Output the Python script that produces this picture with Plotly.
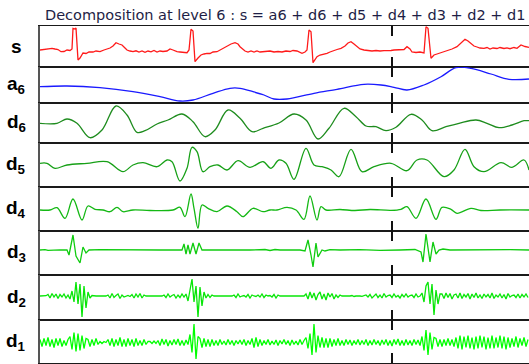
import plotly.graph_objects as go
from plotly.subplots import make_subplots

# ---------------- data (sample index, amplitude) ----------------
s_x = [0, 4, 8, 12, 15, 18, 21, 24, 27, 30, 32, 33, 35, 36, 38, 40, 43, 46, 49, 53, 56, 60, 64, 67, 70, 73, 76, 79, 82, 85,
       87, 90, 93, 96, 99, 102, 105, 108, 111, 114, 117, 120, 123, 127, 130, 133, 137, 140, 144, 147, 149, 151, 153, 155,
       158, 161, 164, 167, 170, 173, 177, 180, 184, 187, 191, 195, 198, 200, 203, 205, 208, 211, 214, 217, 220, 223, 226,
       230, 234, 238, 242, 246, 250, 253, 257, 260, 262, 265, 267, 269, 271, 273, 277, 280, 283, 287, 290, 294, 297, 301,
       305, 308, 311, 314, 317, 320, 324, 328, 332, 336, 340, 344, 348, 351, 354, 357, 361, 364, 367, 370, 372, 376, 380,
       384, 386, 388, 391, 394, 397, 400, 404, 408, 412, 417, 421, 425, 428, 431, 434, 437, 440, 444, 447, 450, 453, 457,
       460, 464, 467, 470, 474, 477, 481, 485, 489]
s_y = [0, 0.5, 1.5, 1.7, 1, 0.5, -1.7, -1.5, 0, -0.5, 1, 21.7, 21, 22, -10, -8, -3, -3.5, -2, -2, -1, -1.7, 0, 1, 2, 4, 7.3,
       6, 5, 2, 0, -1, -1.7, -0.8, -2, -1, -2.3, -1, -1.8, -0.5, -2, -1, -1.5, -1, 1, 0, -1.7, -2, -2.5, -2.7, 0, 20.7, 19,
       -11.7, -8, -5, -4, -3.3, -3.5, -2, -1.7, 0, 2, 3.3, 6, 7.3, 6, 3.3, 1, -1, -2, -1, -2, -1, -2, -1.5, -1.7, -1, -2,
       -1.5, -2, -1, -1.5, -0.5, -1, -2, -3.3, -2, 0, 20, 18.3, -12.7, -6.7, -5, -4.5, -3.3, -2, -1, 0.5, 1.7, 4, 7, 8.3, 6,
       3.3, 1, 0, -0.5, -1, -0.5, -1, -0.7, -1, -0.5, 0, 0, 0.5, 0.5, 3.3, 1, -2, -2.5, -2, -3, 23.3, 21.7, -8.3, -5, -4, -3,
       -1.7, -0.5, 1, 3.3, 7, 10.7, 9, 6, 4, 3, 2, 1.7, 2.5, 1, 2, 1.5, 2.5, 1.5, 2.2, 1.3, 2.5, 1.7, 5, 3.5, 2.7]

a6_x = [0, 27, 60, 93, 120, 140, 153, 173, 190, 200, 213, 224, 234, 247, 274, 297, 324, 341, 354, 367, 384, 401, 416, 431,
        451, 469, 489]
a6_y = [-1.7, -1, -2.7, -6.7, -11.7, -16, -15, -8.3, -3.3, -3.3, -6.7, -10, -14, -14, -8.3, -4.3, 0.7, 0, -2.3, -5, 0,
        8.3, 17.3, 16.7, 11, 5.7, 6]

d6_x = [0, 17, 27, 37, 50, 62, 76, 87, 97, 105, 117, 128, 142, 153, 165, 175, 188, 200, 212, 223, 239, 254, 266, 278, 289,
        304, 316, 326, 336, 346, 356, 371, 382, 392, 406, 419, 436, 447, 459, 472, 484, 489]
d6_y = [-0.3, -0.3, 4, -0.3, -14.7, -7, 17, 8, -9.3, -7.7, -1, 3, 9, 1.3, -13.7, -7, 13, 4.7, -8.7, -5.3, 0, 9, 3, -16,
        -5.3, 14.7, 6.3, -3, -3.7, -7.7, -4.3, 8.7, 3, -7.7, -3.7, -0.3, 3, -0.3, -4.7, -2, 2.3, 2.3]

d5_x = [0, 7, 15, 27, 47, 67, 83, 93, 103, 117, 127, 132, 140, 147, 152, 157, 163, 170, 178, 187, 198, 210, 223, 231, 239,
        246, 254, 266, 274, 282, 291, 299, 311, 322, 334, 351, 367, 377, 387, 404, 414, 425, 434, 444, 461, 472, 484, 489]
d5_y = [1.7, 1.7, -3.3, 0, 1.7, 3.3, -6.7, 0, 2.3, -1.7, 5, 3.3, -16, -3.3, 17.7, 13.3, -6.7, -1.7, 0, -5, 4.3, -2.3, 3.3,
        -3.3, 5, 1.7, -14.3, 16.7, 0, -1.7, -5, -11.7, 15.7, -6.7, -1.7, 1.7, -5.7, 5, 5, -11.7, -5, 15.7, -1.7, -6.7, 2.3,
        -2.3, 5, -5]

d4_x = [0, 10, 17, 25, 33, 42, 48, 55, 63, 70, 77, 83, 93, 110, 133, 140, 145, 151, 154, 158, 162, 168, 177, 187, 197, 203,
        213, 223, 230, 237, 247, 256, 264, 270, 277, 281, 286, 300, 315, 330, 351, 361, 367, 376, 386, 396, 402, 411, 417,
        431, 441, 460, 489]
d4_y = [0, 0, 2.3, -8.3, 11, -10, 4, 0.7, 0, -1.7, 2.7, -1.7, 0, -0.5, 0, 2.7, -6.7, 16, 1.7, -18.3, 5, 1.7, -1.7, 4, -1.7,
        -6.7, 1.7, -1.7, 0, 0, 2.7, 0, -9.3, 14, -10, 3.3, 0, 0.5, -0.5, 0.5, -0.3, 0.7, 3.3, -8.3, 11, -9.3, 2.7, 0.7, -3.3,
        1.7, -0.5, 0, 0]

d3_x = [0, 5, 8, 12, 20, 27, 29, 33, 36, 40, 43, 46, 49, 60, 80, 100, 120, 142, 144, 146, 148, 150, 153, 156, 159, 162, 165,
        180, 195, 210, 225, 230, 235, 240, 250, 260, 265, 268, 271, 273, 276, 278, 282, 285, 290, 300, 320, 340, 360, 375,
        381, 383, 386, 390, 393, 396, 399, 403, 410, 430, 450, 470, 489]
d3_y = [0, 0.3, -0.3, 0, 0.2, 0, -5, 15, -6, -13, 3, -3, 0, 0.3, 0, -0.3, 0, 0, 6, -4, 5, -4, 7, -4, 7, 0, 0, -0.3, 0.3, 0,
        0.5, -0.5, 0.5, 0, 0.2, 0, -1, 10, -5, -17, 7, -7, 0, -1, 0.3, 0, 0.3, -0.3, 0, 0.5, -2, -12, 16, -12, 8, -4, 0, 1, 0,
        0.3, 0, 0.3, 0]

# d2 and d1 are sampled every 2 samples
d2_y = [0, 0, 0, 0.3,
        1.5, -2, 2.5, -1, 2, -2.5, 1.5, -1, 2, -2, 1,
        -3, 5, -6, 14, -8, 12, -21, 10, -12, 4, -2, 0.5,
        0, 0, 0.2, 0, 0, -0.2, 0,
        1, -2, 2.5, -1.5, 0.5, 2, -2.5, 1, -1, 0, 0.5, -0.5, 1.5, -2, 2, -1, 2.5, -2, 1, 0,
        0, 0, 0, 0, 0.2, 0, 0, 0,
        1, -1.5, 2, -1, 0.5, 1.5, -2, 1, -1.5, 2, -1,
        2, -5, 8, 17, -6, 10, -21, 9, -10, 4, -2,
        1.5, -1.5, 1,
        0, 0, 0, 0, 0, 0, 0, 0, 0, 0,
        1, -1.5, 2, -1, 0, 0.5, -1, 1.5, -2, 1, 0, -0.5, 1, -1, 2, -1.5, 1, 0, 0.5, -1, 1.5, -2, 1, 0,
        0, 0, 0, 0, 0, 0, 0, 0, 0, 0, 0, 0,
        2, -3, 4, -2, 3, -4, 1.5, 4, -3, 2, -4, 3, -1, 2.5, -3, 1, -1.5, 1, 0,
        0, 0.3, -0.3, 0, 0.5, -0.5, 0, 0.3, 0, -0.3, 0,
        1, -1, 1.5, -2, 0.5, 2, -1.5, 1, -2, 2.5, -1, 0.5, 1, -1.5, 2, -1, 0.5, -2, 1.5, -1, 2, -1, 0.5, 1, -1.5, 2, -1, 0,
        3, -6, 10, 14, -8, 12, -19, 6, -8, 2,
        2, -2.5, 3, -1.5, 2.5, -3, 1, 2, -2, 3, -2.5, 1.5, -1, 2.5, -3, 2, -1.5, 3, -2, 1, -2.5, 2, -1, 1.5, -2, 3, -2.5, 1,
        -1, 2, -2, 1.5, -3, 2.5, -1, 0.5, 1, -1.5, 2, -2, 1.5, -1, 2, -1.5]

d1_y = [3, -4, 4, -3, 5, -4, 3, -5, 4, -3, 4, -4, 2, -3, 3,
        6, -7, 10, -9, 9, -8, 7, -6, 4,
        3, -4, 3, -3, 4, -2,
        1, -1, 1, 0,
        3, -3, 4, -4, 3, -3, 5, -4, 3, -4, 4, -3, 3, -4, 4, -3, 2, -3, 3, -2, 1,
        1, -1, 1.5, -1,
        2, -3, 3.5, -2, 3, -3.5, 2, -2.5, 3, -2, 3.5, -3, 2, -3, 2.5, -2,
        8, -10, 18.5, -16.5, 6,
        4, -5, 4, -4, 3, -4, 3, -3,
        2, -3, 3, -2, 1.5, -2.5, 3, -2, 2, -3, 2, -1.5, 2.5, -2, 3, -3, 2, -2,
        4, -5, 5, -4, 3, -3,
        2, -2, 3, -2.5, 1.5, -2, 2.5, -3, 2, -1.5, 3, -2, 2, -3, 2.5, -2, 1.5, -2.5, 3, -2, 2,
        5, -6, 9, -12.5, 18.5, -10, 7, -5,
        5, -5, 4, -5, 4, -4, 3, -3, 4, -3,
        2, -3, 3, -2, 2.5, -3, 2, -2, 3, -2.5, 2, -2, 3, -3, 2, -2.5, 3, -2, 2, -3, 2.5, -2,
        3, -3, 2, -3.5, 3, -2, 3.5, -3, 2, -3, 3, -2.5, 2, -3, 3, -2, 2.5, -3,
        6, -8, 12.5, -12.5, 10, -7, 5,
        4, -4, 3, -4, 3, -3, 4, -3, 3, -4,
        5, -6, 7, -7, 6, -5, 7, -6, 5, -7, 6, -6, 7, -5, 6, -7, 5, -6, 7, -6, 5, -5, 7, -6, 6, -7, 5, -5,
        4, -4, 6, -5, 4, -3, 5, -4, 3]

d2_x = [2 * i for i in range(len(d2_y))]
d1_x = [2 * i for i in range(len(d1_y))]

event_sample = 352
labels = ["s", "a<sub>6</sub>", "d<sub>6</sub>", "d<sub>5</sub>", "d<sub>4</sub>", "d<sub>3</sub>", "d<sub>2</sub>",
          "d<sub>1</sub>"]
title_text = "Decomposition at level 6 : s = a6 + d6 + d5 + d4 + d3 + d2 + d1"

# ---------------- styling / layout ----------------
series = [(s_x, s_y), (a6_x, a6_y), (d6_x, d6_y), (d5_x, d5_y), (d4_x, d4_y), (d3_x, d3_y), (d2_x, d2_y), (d1_x, d1_y)]
colors = ["#ff1a1a", "#1a1aff", "#1e8c1e", "#17a017", "#14b814", "#10cc10", "#08e608", "#00ff00"]
shapes_kind = ["linear", "spline", "spline", "spline", "spline", "linear", "linear", "linear"]
y_ranges = [(-17, 24), (-18, 18), (-20, 20), (-22, 22), (-21, 23), (-25, 19), (-24, 21), (-20.5, 22.5)]

W, H = 529, 364
top, bottom = 26, 1
edges = [26, 67, 103, 143, 187, 231, 275, 320, 363]
plot_h = H - top - bottom

fig = make_subplots(rows=8, cols=1, shared_xaxes=True, vertical_spacing=0)

for k, ((xs, ys), col, shp) in enumerate(zip(series, colors, shapes_kind)):
    fig.add_trace(go.Scatter(x=xs, y=ys, mode="lines", line=dict(color=col, width=1.3, shape=shp),
                             showlegend=False, hoverinfo="skip"), row=k + 1, col=1)

for k in range(8):
    sfx = "" if k == 0 else str(k + 1)
    d0 = (H - bottom - edges[k + 1]) / plot_h
    d1 = (H - bottom - edges[k]) / plot_h
    fig.layout["yaxis" + sfx].update(domain=[d0, d1], range=list(y_ranges[k]), showticklabels=False, ticks="",
                                     showgrid=False, zeroline=False, showline=True, linecolor="#555555",
                                     linewidth=2, mirror=False, fixedrange=True)
    fig.layout["xaxis" + sfx].update(range=[0, 489], showticklabels=False, ticks="", showgrid=False, zeroline=False,
                                     showline=True, linecolor="#1a1a1a", linewidth=1.3, mirror=True)
    ph = edges[k + 1] - edges[k]
    fig.add_shape(type="line", xref="x" + sfx, yref="y" + sfx + " domain", x0=event_sample, x1=event_sample,
                  y0=1, y1=0, line=dict(color="#111111", width=2, dash=f"10px,{ph - 20}px,10px"))
    fig.add_annotation(text="<b>" + labels[k] + "</b>", xref="paper", yref="y" + sfx + " domain", x=0, y=0.5,
                       xanchor="center", yanchor="middle", xshift=-24, showarrow=False,
                       font=dict(family="Liberation Sans, Arial", size=19, color="#000000"))

fig.add_annotation(text=title_text, xref="paper", yref="paper", x=0.5, y=1, xanchor="center", yanchor="bottom",
                   yshift=1, xshift=1, showarrow=False, font=dict(family="DejaVu Sans", size=14.5, color="#1e1e46"))

fig.update_layout(width=W, height=H, margin=dict(l=40, r=0, t=top, b=bottom), paper_bgcolor="white",
                  plot_bgcolor="white", showlegend=False)

fig.write_html("out.html", config={"displayModeBar": False},
               post_script="document.body.style.margin='0';document.body.style.overflow='hidden';")
